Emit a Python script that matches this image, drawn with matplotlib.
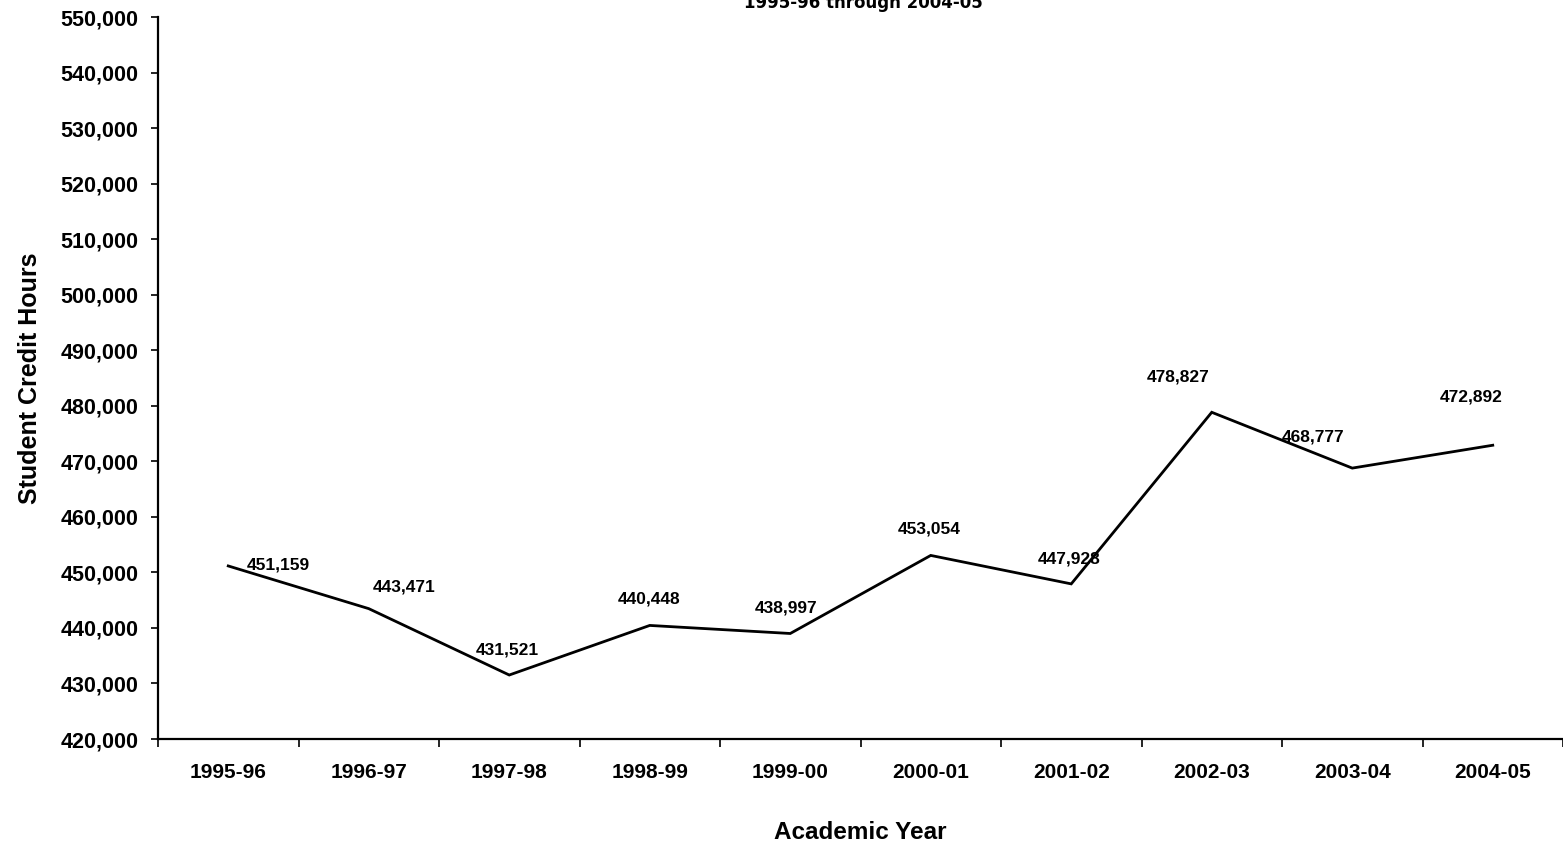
import matplotlib
matplotlib.use("Agg")
import matplotlib.pyplot as plt
from matplotlib.ticker import FuncFormatter, FixedLocator

plt.rcParams['font.family'] = ['Liberation Sans', 'DejaVu Sans']
plt.rcParams['font.weight'] = 'bold'

years = ['1995-96', '1996-97', '1997-98', '1998-99', '1999-00',
         '2000-01', '2001-02', '2002-03', '2003-04', '2004-05']
credit_hours = [451159, 443471, 431521, 440448, 438997,
                453054, 447928, 478827, 468777, 472892]

# where each value label sits relative to its point (pixels)
label_shift = [(50, 1), (35, 22), (-2, 25), (-1, 26), (-4, 25),
               (-2, 26), (-2, 25), (-34, 35), (-39, 31), (-22, 48)]

fig = plt.figure(figsize=(15.63, 8.46), dpi=100)
ax = fig.add_axes([158 / 1563, 1 - 739 / 846, 1 - 158 / 1563, (739 - 17) / 846])

x = list(range(len(years)))
ax.plot(x, credit_hours, color='black', lw=2.0, solid_joinstyle='miter')

for xi, v, (dx, dy) in zip(x, credit_hours, label_shift):
    ax.annotate(f'{v:,}', (xi, v), xytext=(dx, dy), textcoords='offset pixels',
                ha='center', va='center', fontsize=12.5, fontweight='bold')

ax.set_xlim(-0.5, len(years) - 0.5)
ax.set_ylim(420000, 550000)
ax.set_yticks(range(420000, 550001, 10000))
ax.yaxis.set_major_formatter(FuncFormatter(lambda v, p: f'{int(v):,}'))

# tick marks between categories, labels centred on each category
ax.xaxis.set_major_locator(FixedLocator([i - 0.5 for i in range(len(years) + 1)]))
ax.xaxis.set_major_formatter(FuncFormatter(lambda v, p: ''))
ax.xaxis.set_minor_locator(FixedLocator(x))
ax.set_xticklabels(years, minor=True)
ax.tick_params(axis='x', which='minor', length=0, pad=17, labelsize=15)
ax.tick_params(axis='x', which='major', length=6, width=1.2, direction='out')
ax.tick_params(axis='y', length=5, width=1.2, direction='out', pad=9, labelsize=15.5)

for side in ('top', 'right'):
    ax.spines[side].set_visible(False)
for side in ('left', 'bottom'):
    ax.spines[side].set_linewidth(1.6)

ax.set_xlabel('Academic Year', fontsize=17.5, fontweight='bold', labelpad=28)
ax.set_ylabel('Student Credit Hours', fontsize=18, fontweight='bold', labelpad=13)

fig.text(863 / 1563, 1 - 8 / 846, '1995-96 through 2004-05', ha='center', va='baseline',
         fontsize=12, fontweight='bold', family=['DejaVu Sans'])

fig.savefig('out.png', dpi=100)
